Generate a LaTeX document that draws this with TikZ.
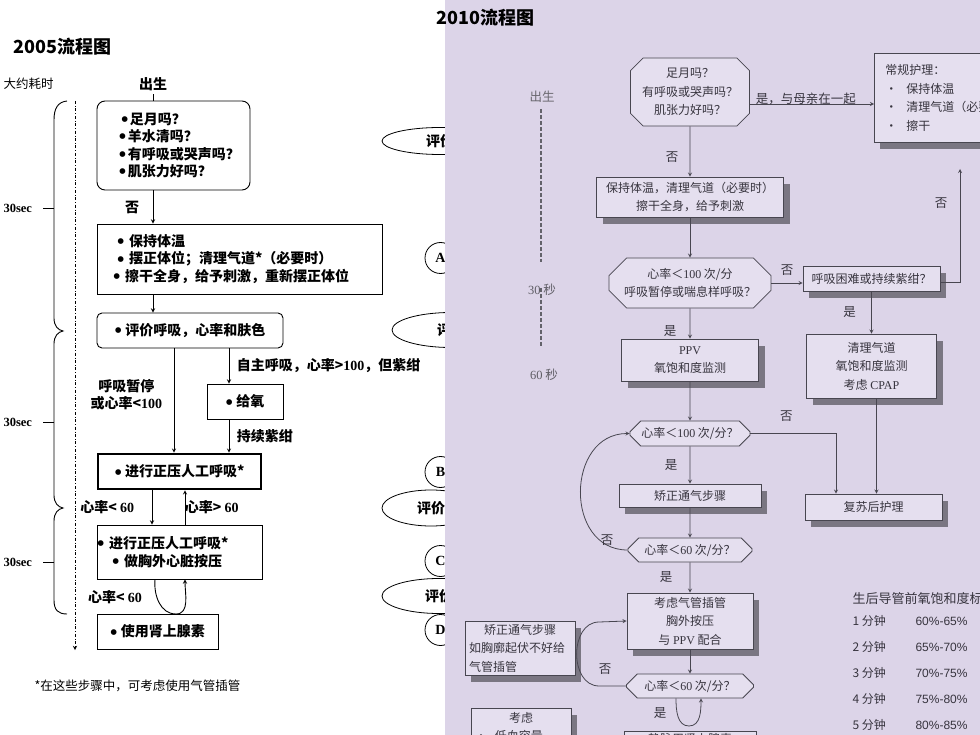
\documentclass[tikz,border=0pt]{standalone}
\usepackage{fontspec}
\setmainfont{Noto Sans CJK SC}
\newfontfamily\tms{Liberation Serif}
\newfontfamily\ars{Liberation Sans}
\usepackage{tikz}
\usetikzlibrary{positioning,arrows,shapes.misc,shapes.geometric,shadows}
\definecolor{lav}{RGB}{220,212,232}
\definecolor{nfill}{RGB}{229,223,239}
\definecolor{nedge}{RGB}{72,70,80}
\definecolor{ntext}{RGB}{55,52,62}
\definecolor{nshade}{RGB}{122,118,130}
\newcommand\nm[1]{{\tms #1}}
\newcommand\bul{\smash{\raisebox{-0.16em}{\scalebox{1.5}{\tms\textbullet}}}}

\begin{document}
\begin{tikzpicture}[x=1pt,y=-1pt,>=stealth,on grid,
  obox/.style={draw,line width=0.9pt,font=\fontsize{14}{17.5}\selectfont\bfseries,align=left,inner sep=2pt},
  olbl/.style={font=\fontsize{14}{17}\selectfont\bfseries},
  oell/.style={draw,ellipse,line width=0.8pt,font=\fontsize{14}{17}\selectfont\bfseries,inner sep=1pt},
  ocirc/.style={draw,circle,line width=0.8pt,minimum size=31pt,inner sep=0pt,font=\fontsize{14}{17}\selectfont\bfseries\tms},
  nbox/.style={draw=nedge,fill=nfill,line width=0.8pt,text=ntext,font=\fontsize{12}{18.5}\selectfont,align=center,inner sep=2pt,
    drop shadow={shadow xshift=6pt,shadow yshift=-7pt,fill=nshade,opacity=1}},
  ncham/.style={chamfered rectangle,chamfered rectangle xsep=9pt,draw=nedge,fill=nfill,line width=0.8pt,text=ntext,
    font=\fontsize{12}{18.5}\selectfont,align=center,inner sep=1pt},
  nlbl/.style={text=ntext,font=\fontsize{12.5}{15}\selectfont},
  nlink/.style={color=nedge,line width=0.8pt}]
\clip (0,0) rectangle (980,735);
\fill[white] (0,0) rectangle (445,735);

% 2005
\node[anchor=west,font=\fontsize{18}{20}\selectfont\bfseries] (o_title) at (10,47) {2005流程图};
\node[anchor=west,font=\fontsize{12.5}{14}\selectfont] (o_time) at (0,84) {大约耗时};
\node[olbl] (o_0) at (153,84) {出生};
\node[obox,rounded corners=8pt,minimum width=153pt,minimum height=89pt,text width=135pt,inner xsep=9pt] (o_1) at (173.5,145.5)
  {\hspace*{15pt}\bul\nobreak\hspace{1.5pt}足月吗？\\\hspace*{13pt}\bul\nobreak\hspace{1.5pt}羊水清吗？\\
   \hspace*{13pt}\bul\nobreak\hspace{1.5pt}有呼吸或哭声吗？\\\hspace*{13pt}\bul\nobreak\hspace{1.5pt}肌张力好吗？};
\node[obox,minimum width=285pt,minimum height=70pt,text width=253pt,inner xsep=16pt] (o_2) at (239.5,259)
  {\hspace*{4pt}\bul\ 保持体温\\\hspace*{4pt}\bul\ 摆正体位；清理气道*（必要时）\\\bul\ 擦干全身，给予刺激，重新摆正体位};
\node[obox,rounded corners=5pt,minimum width=186pt,minimum height=35pt] (o_3) at (190,330.5) {\bul\ 评价呼吸，心率和肤色};
\node[obox,minimum width=76pt,minimum height=35pt] (o_4) at (245,401.5) {\bul\ 给氧};
\node[obox,line width=2.6pt,minimum width=163pt,minimum height=35pt] (o_5) at (179.5,471.5) {\bul\ 进行正压人工呼吸*};
\node[obox,text width=165pt,inner xsep=0pt,minimum width=165pt,minimum height=54pt] (o_6) at (179.5,552)
  {\bul\ 进行正压人工呼吸*\\\hspace*{15pt}\bul\ 做胸外心脏按压};
\node[obox,minimum width=121pt,minimum height=35pt] (o_7) at (157.5,631.5) {\bul\ 使用肾上腺素};
\coordinate (o_loop) at (176,614);

\draw[line width=0.9pt] (o_0.south) -- (o_0.south |- o_1.north);
\draw[->,line width=0.9pt] (o_0 |- o_1.south) -- (o_0 |- o_2.north) node[olbl,midway,left=10pt] {否};
\draw[->,line width=0.9pt] (o_0 |- o_2.south) -- (o_0 |- o_3.north);
\draw[->,line width=0.9pt] ([xshift=-16pt]o_3.south) -- ([xshift=-16pt]o_3.south |- o_5.north)
  node[olbl,midway,left=8pt,yshift=6pt,align=center] {呼吸暂停\\或心率<\nm{100}};
\draw[->,line width=0.9pt] ([xshift=-16pt]o_4.north |- o_3.south) -- ([xshift=-16pt]o_4.north)
  node[olbl,midway,right=4pt] {自主呼吸，心率>\nm{100}，但紫绀};
\draw[->,line width=0.9pt] ([xshift=-16pt]o_4.south) -- ([xshift=-16pt]o_4.south |- o_5.north)
  node[olbl,midway,right=4pt] {持续紫绀};
\draw[->,line width=0.9pt] ([xshift=-27.5pt]o_5.south) -- ([xshift=-27.5pt]o_5.south |- o_6.north)
  node[olbl,midway,left=14pt] {心率< \nm{60}};
\draw[->,line width=0.9pt] ([xshift=5.5pt]o_6.north) -- ([xshift=5.5pt]o_6.north |- o_5.south)
  node[olbl,midway,right=-4pt] {心率> \nm{60}};
\draw[->,line width=0.9pt] ([xshift=-24.5pt]o_6.south) to[out=-95,in=180] (o_loop) to[out=0,in=-90] ([xshift=5.5pt]o_6.south);
\node[olbl] (o_l3) at (115,597) {心率< \nm{60}};

% time axis
\draw[line width=0.9pt] (67,101) .. controls (58,102) and (54,108) .. (54,120) -- (54,318)
  .. controls (54,326) and (58,330) .. (63,331) .. controls (58,332) and (54,336) .. (54,344) -- (54,495)
  .. controls (54,503) and (58,507) .. (63,508) .. controls (58,509) and (54,513) .. (54,521) -- (54,600)
  .. controls (54,610) and (58,614) .. (67,614);
\foreach \y in {208,422,562} {
  \draw[line width=0.8pt] (43,\y) -- (54,\y);
  \node[anchor=west,font=\fontsize{12.5}{14}\selectfont\bfseries\tms] (o_s\y) at (0,\y) {30sec};
}
\draw[->,dash dot,line width=0.9pt] (75,101) -- (75,650);
\node[anchor=west,font=\fontsize{12.5}{14}\selectfont] (o_note) at (31,686) {*在这些步骤中，可考虑使用气管插管};

\begin{scope}
\clip (0,0) rectangle (445,735);
\node[oell,minimum width=116pt,minimum height=27pt] (o_e1) at (440,141) {评价};
\node[oell,minimum width=118pt,minimum height=35pt] (o_e2) at (451,330) {评价};
\node[oell,minimum width=98pt,minimum height=36pt] (o_e3) at (431,508) {评价};
\node[oell,minimum width=114pt,minimum height=35pt] (o_e4) at (439,596) {评价};
\node[ocirc] (o_A) at (440.5,258) {A};
\node[ocirc] (o_B) at (440.5,472) {B};
\node[ocirc] (o_C) at (440.5,561) {C};
\node[ocirc] (o_D) at (440.5,630) {D};
\end{scope}

% 2010
\fill[lav] (445,0) rectangle (980,735);
\node[nlbl,text=ntext!75] (n_0) at (542,97) {出生};
\draw[color=nedge!85,line width=1.3pt,dash pattern=on 4pt off 2pt] (541,109) -- (541,262) (541,288) -- (541,347);
\node[nlbl,text=ntext!80] (n_30) at (542,290) {\nm{30} 秒};
\node[nlbl,text=ntext!80] (n_60) at (544,375) {\nm{60} 秒};

\node[ncham,minimum width=119pt,minimum height=68pt] (n_1) at (690,92) {足月吗？\\有呼吸或哭声吗？\\肌张力好吗？};
\node[nbox,minimum width=187pt,minimum height=40pt,below=105pt of n_1] (n_2) {保持体温，清理气道（必要时）\\擦干全身，给予刺激};
\node[ncham,chamfered rectangle xsep=14pt,minimum width=160pt,minimum height=50pt,below=86pt of n_2] (n_3)
  {心率＜\nm{100} 次/分\\呼吸暂停或喘息样呼吸？};
\node[nbox,minimum width=137pt,minimum height=42pt,below=77pt of n_3] (n_4) {\nm{PPV}\\氧饱和度监测};
\node[ncham,minimum width=120pt,minimum height=25pt,below=73.5pt of n_4] (n_5) {心率＜\nm{100} 次/分？};
\node[nbox,minimum width=142pt,minimum height=23pt,below=62pt of n_5] (n_6) {矫正通气步骤};
\node[ncham,minimum width=124pt,minimum height=24pt,below=54.5pt of n_6] (n_7) {心率＜\nm{60} 次/分？};
\node[nbox,minimum width=126pt,minimum height=56pt,below=71pt of n_7] (n_8) {考虑气管插管\\胸外按压\\与 \nm{PPV} 配合};
\node[ncham,minimum width=127pt,minimum height=24pt,below=65pt of n_8] (n_9) {心率＜\nm{60} 次/分？};
\node[nbox,minimum width=132pt,anchor=north] (n_10) at (690,731) {静脉用肾上腺素};

\node[nbox,anchor=north west,minimum width=150pt,minimum height=89pt,text width=128pt,align=left] (n_c) at (874,53)
  {常规护理：\\•\hspace*{9pt}保持体温\\•\hspace*{9pt}清理气道（必要时）\\•\hspace*{9pt}擦干};
\node[nbox,minimum width=137pt,minimum height=25pt] (n_q) at (871.5,278.5) {呼吸困难或持续紫绀？};
\node[nbox,minimum width=130pt,minimum height=64pt,below=87.5pt of n_q] (n_r) {清理气道\\氧饱和度监测\\考虑 \nm{CPAP}};
\node[nbox,minimum width=137pt,minimum height=26pt] (n_p) at (873.5,507) {复苏后护理};
\node[nbox,minimum width=110pt,minimum height=54pt,text width=102pt,align=left] (n_l1) at (520,648)
  {\makebox[102pt]{矫正通气步骤}\\如胸廓起伏不好给\\气管插管};
\node[nbox,minimum width=100pt,anchor=north,inner ysep=4pt,text width=92pt,align=left] (n_l2) at (521,708)
  {\makebox[92pt]{考虑}\\•\hspace*{8pt}低血容量};
\coordinate (n_tip) at (960,169);
\coordinate (n_lp) at (689,726);

\path[nlink,->]
  (n_1) edge node[nlbl,left=8pt,yshift=-6pt] {否} (n_2)
  (n_2) edge (n_3)
  (n_3) edge node[nlbl,left=10pt,pos=0.75] {是} (n_4)
  (n_4) edge (n_5)
  (n_5) edge node[nlbl,left=9pt] {是} (n_6)
  (n_6) edge (n_7)
  (n_7) edge node[nlbl,left=14pt] {是} (n_8)
  (n_8) edge (n_9)
  (n_q) edge node[nlbl,left=12pt] {是} (n_r);
\draw[nlink,->] ([yshift=-12pt]n_1.east) -- ([yshift=-12pt]n_1.east -| n_c.west)
  node[nlbl,midway,above,yshift=-5pt,xshift=-6pt] {是，与母亲在一起};
\draw[nlink,->] (n_3.east) -- (n_3.east -| n_q.west) node[nlbl,midway,above=4pt] {否};
\draw[nlink,->] ([yshift=-4pt]n_q.east) -| (n_tip) node[nlbl,pos=0.85,left=9pt] {否};
\draw[nlink,->] (n_5.east) -| ([xshift=-37.5pt]n_p.north) node[nlbl,pos=0.21,above=8pt] {否};
\draw[nlink,->] ([xshift=3pt]n_p.north |- n_r.south) -- ([xshift=3pt]n_p.north);
\draw[nlink,->] (n_7.west) to[out=180,in=180,looseness=1.4] (n_5.west);
\node[nlbl] (n_no1) at (607,540) {否};
\draw[nlink,->] (n_9.west) -- ++(-27,0) to[out=180,in=180,looseness=1.2] ++(0,-64) -- (n_8.west);
\node[nlbl] (n_no2) at (605,669) {否};
\draw[nlink,->] ([xshift=-14pt]n_9.south) to[out=-90,in=180] (n_lp) to[out=0,in=-90] ([xshift=11pt]n_9.south);
\node[nlbl] (n_yes) at (660,713) {是};

\node[nlbl,anchor=west,font=\fontsize{13}{15}\selectfont] (n_t0) at (849,599) {生后导管前氧饱和度标准};
\foreach \m/\v [count=\i] in {1/60\%-65\%,2/65\%-70\%,3/70\%-75\%,4/75\%-80\%,5/80\%-85\%} {
  \node[nlbl,anchor=west,font=\fontsize{12}{14}\selectfont] (n_m\i) at (849,595+26*\i) {\m\ 分钟};
  \node[nlbl,anchor=west,font=\fontsize{12}{14}\selectfont\ars] (n_v\i) at (912,595+26*\i) {\v};
}

\node[anchor=west,font=\fontsize{18}{20}\selectfont\bfseries] (n_title) at (433,18) {2010流程图};
\end{tikzpicture}
\end{document}
